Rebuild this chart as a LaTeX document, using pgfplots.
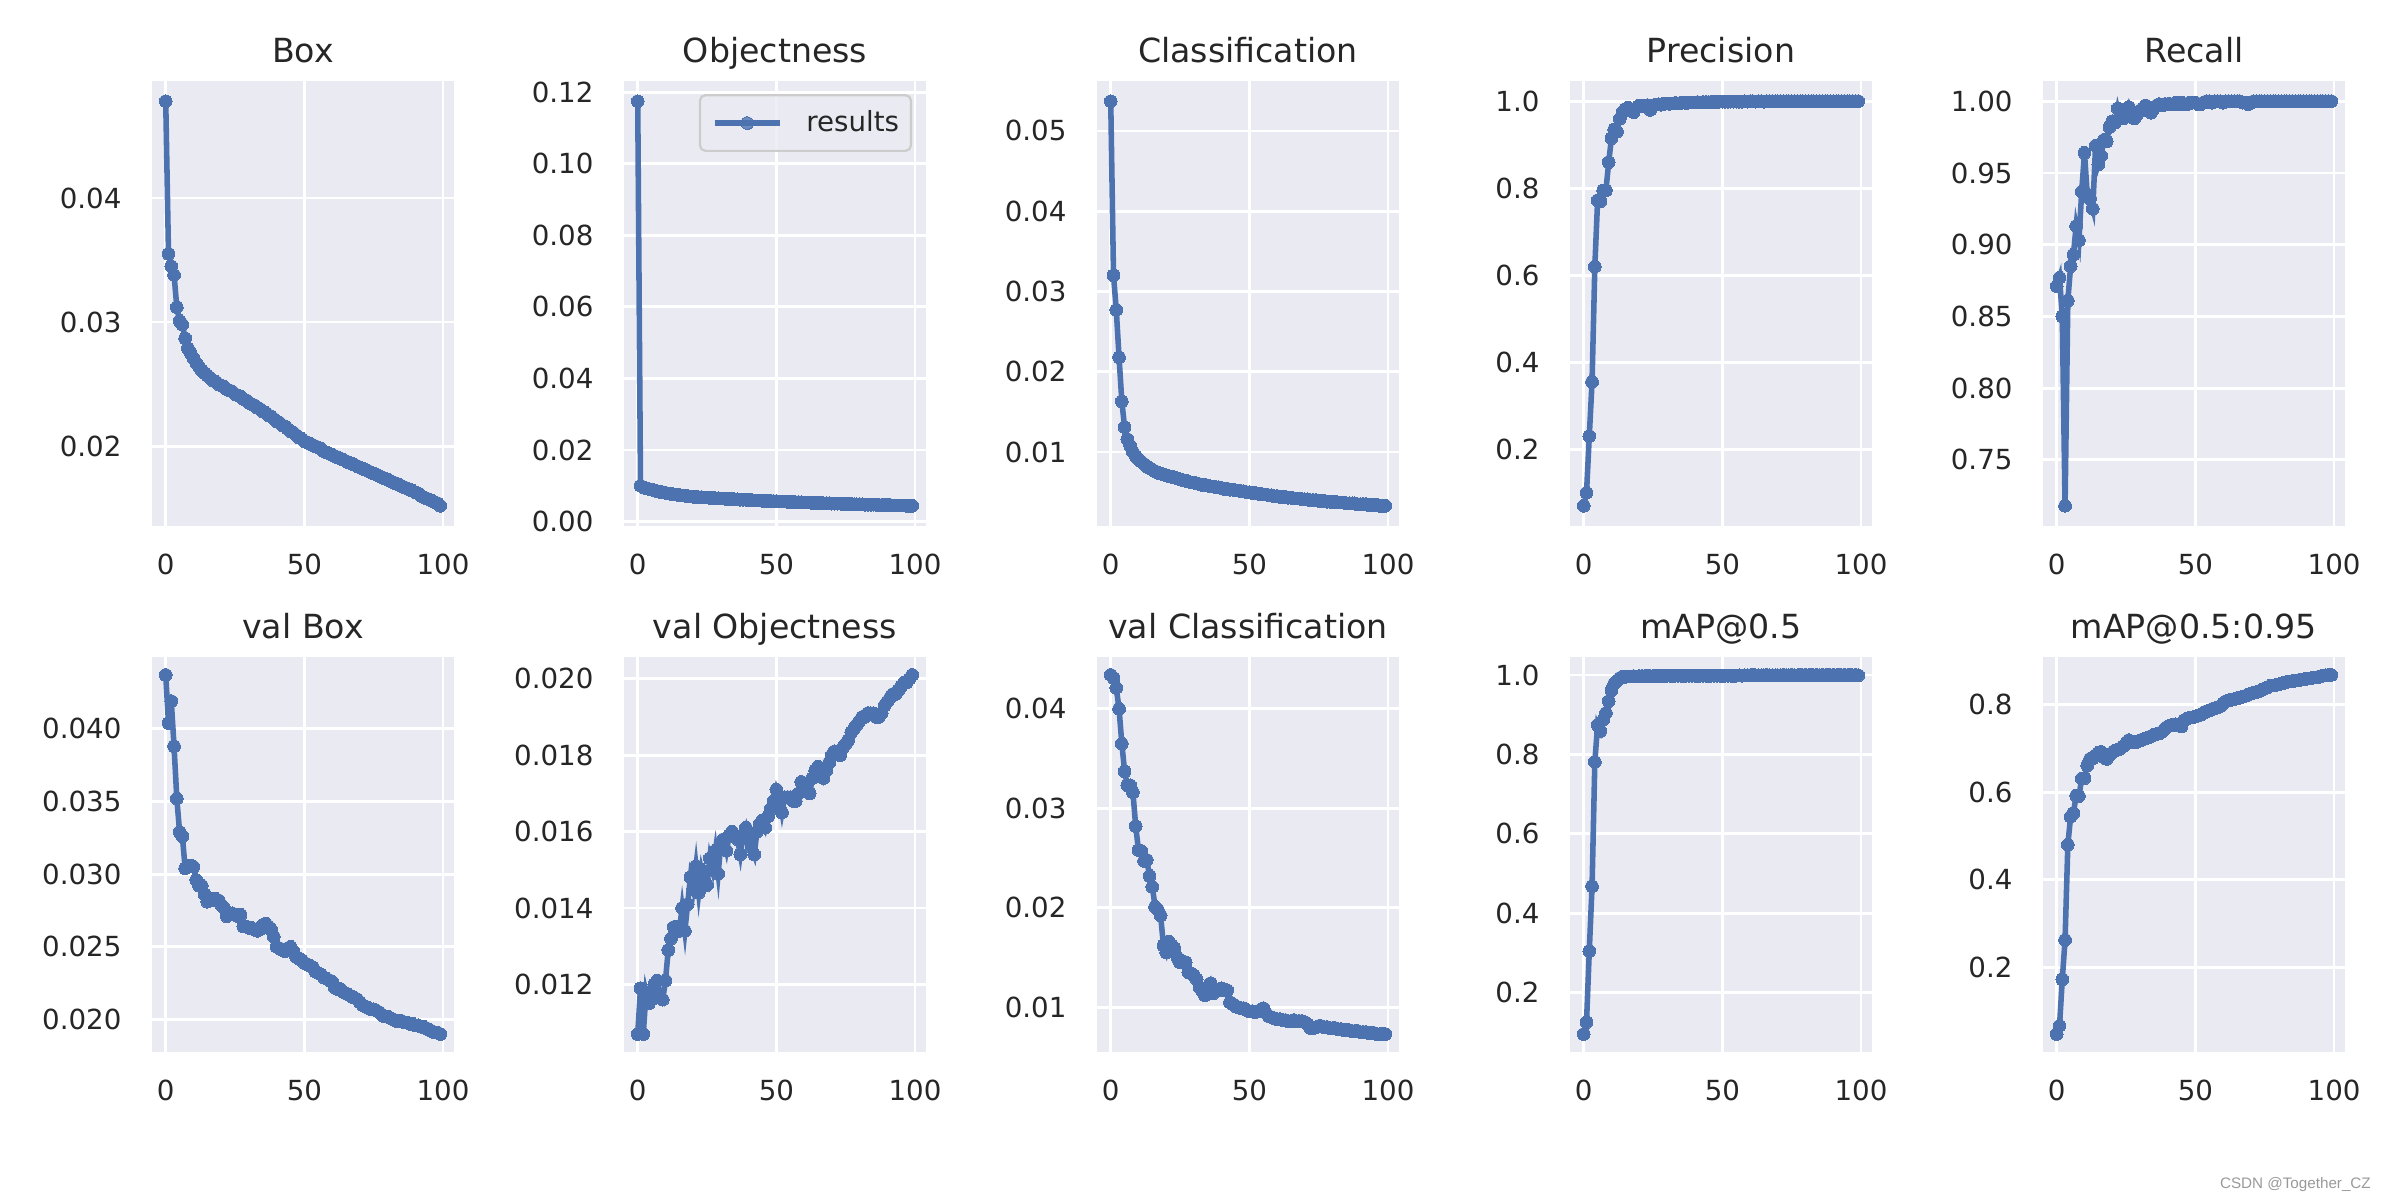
\documentclass[border=0pt]{standalone}
\usepackage{fontspec}
\setmainfont{DejaVu Sans}
\newfontfamily\wmfont{Liberation Sans}
\usepackage{pgfplots}
\usepackage{pgfplotstable}
\pgfplotsset{compat=1.18}

\definecolor{bgc}{HTML}{EAEAF2}
\definecolor{c0}{HTML}{4C72B0}
\definecolor{txt}{HTML}{262626}
\definecolor{legc}{HTML}{CCCCCC}

% epoch, train box/obj/cls, precision, recall, val box/obj/cls, mAP@.5, mAP@.5:.95
\pgfplotstableread{
ep box obj cls prec rec vbox vobj vcls map50 map
0 .0478 .1175 .0537 .070 .871 .0437 .0107 .0434 .096 .047
1 .0355 .0100 .0320 .100 .877 .0404 .0119 .0431 .126 .066
2 .0345 .0096 .0277 .230 .850 .0419 .0107 .0421 .305 .172
3 .0338 .0093 .0218 .355 .718 .0388 .0118 .0400 .468 .262
4 .0312 .0091 .0163 .620 .861 .0352 .0115 .0365 .781 .480
5 .0301 .0089 .0131 .772 .885 .0329 .0116 .0337 .874 .544
6 .0298 .0087 .0116 .770 .893 .0326 .0120 .0323 .859 .552
7 .0287 .0085 .0108 .795 .913 .0304 .0121 .0323 .887 .592
8 .0279 .0083 .0100 .795 .903 .0306 .0117 .0316 .904 .591
9 .0275 .0082 .0095 .860 .937 .0306 .0116 .0282 .934 .631
10 .0271 .0080 .0091 .915 .964 .0305 .0121 .0258 .961 .632
11 .0267 .0078 .0088 .935 .935 .0296 .0129 .0257 .978 .661
12 .0264 .0077 .0085 .930 .932 .0292 .0132 .0247 .985 .676
13 .0261 .0076 .0082 .960 .925 .0292 .0135 .0248 .992 .677
14 .0259 .0075 .0080 .975 .969 .0286 .0135 .0232 .996 .684
15 .0257 .0074 .0078 .982 .956 .0281 .0134 .0221 .995 .690
16 .0255 .0073 .0076 .985 .962 .0283 .0140 .0201 .996 .692
17 .0253 .0072 .0074 .980 .973 .0282 .0134 .0198 .996 .680
18 .0252 .0071 .0073 .975 .972 .0283 .0141 .0192 .997 .676
19 .0250 .0070 .0072 .985 .982 .0282 .0148 .0162 .996 .685
20 .0249 .0069 .0071 .990 .986 .0279 .0145 .0155 .997 .690
21 .0248 .0069 .0070 .988 .985 .0277 .0151 .0166 .997 .695
22 .0246 .0068 .0069 .990 .995 .0271 .0144 .0162 .997 .697
23 .0245 .0068 .0068 .991 .988 .0272 .0150 .0159 .998 .700
24 .0244 .0067 .0067 .980 .988 .0273 .0147 .0150 .997 .705
25 .0242 .0067 .0066 .990 .990 .0272 .0146 .0145 .997 .712
26 .0241 .0066 .0065 .992 .996 .0271 .0153 .0146 .998 .719
27 .0240 .0066 .0064 .993 .990 .0272 .0150 .0145 .997 .715
28 .0238 .0065 .0063 .992 .988 .0264 .0155 .0135 .998 .714
29 .0237 .0065 .0062 .994 .991 .0264 .0149 .0134 .997 .715
30 .0235 .0064 .0062 .995 .993 .0263 .0157 .0132 .998 .718
31 .0234 .0064 .0061 .994 .995 .0263 .0158 .0128 .998 .721
32 .0233 .0063 .0060 .995 .997 .0262 .0155 .0120 .997 .723
33 .0231 .0063 .0059 .996 .996 .0261 .0159 .0116 .998 .725
34 .0230 .0063 .0059 .995 .992 .0262 .0160 .0112 .998 .728
35 .0228 .0062 .0058 .996 .995 .0265 .0159 .0118 .998 .731
36 .0227 .0062 .0057 .997 .997 .0266 .0158 .0124 .997 .733
37 .0225 .0061 .0057 .996 .998 .0264 .0154 .0114 .998 .734
38 .0224 .0061 .0056 .997 .997 .0262 .0159 .0116 .998 .738
39 .0222 .0061 .0056 .997 .998 .0257 .0161 .0118 .998 .745
40 .0220 .0060 .0055 .997 .998 .0250 .0158 .0119 .998 .750
41 .0219 .0060 .0054 .998 .998 .0249 .0156 .0117 .998 .752
42 .0217 .0059 .0054 .997 .998 .0248 .0154 .0117 .998 .754
43 .0216 .0059 .0053 .998 .999 .0247 .0160 .0105 .998 .755
44 .0214 .0059 .0053 .998 .998 .0249 .0162 .0103 .998 .752
45 .0212 .0058 .0052 .998 .999 .0250 .0163 .0101 .998 .750
46 .0211 .0058 .0052 .998 .998 .0247 .0161 .0100 .998 .765
47 .0209 .0058 .0051 .999 .998 .0243 .0164 .0099 .998 .768
48 .0207 .0057 .0051 .998 .999 .0242 .0166 .0099 .998 .770
49 .0206 .0057 .0050 .999 .999 .0241 .0168 .0097 .998 .771
50 .0204 .0057 .0050 .999 .999 .0239 .0171 .0096 .998 .773
51 .0203 .0056 .0049 .999 .998 .0238 .0169 .0096 .998 .775
52 .0202 .0056 .0049 .999 .998 .0237 .0165 .0095 .998 .777
53 .0201 .0056 .0048 .999 .999 .0236 .0169 .0096 .998 .781
54 .0200 .0055 .0048 .999 1.000 .0233 .0169 .0097 .998 .785
55 .0199 .0055 .0047 .999 1.000 .0232 .0169 .0099 .998 .787
56 .0198 .0055 .0047 .999 .999 .0231 .0168 .0094 .999 .790
57 .0196 .0054 .0046 .999 1.000 .0229 .0168 .0091 .998 .792
58 .0195 .0054 .0046 1.000 1.000 .0228 .0170 .0090 .999 .794
59 .0194 .0054 .0045 .999 1.000 .0227 .0173 .0089 .999 .797
60 .0193 .0053 .0045 1.000 .999 .0226 .0172 .0088 .999 .803
61 .0192 .0053 .0044 1.000 1.000 .0222 .0171 .0088 1.000 .808
62 .0191 .0053 .0044 .999 1.000 .0221 .0170 .0087 .999 .810
63 .0190 .0052 .0044 1.000 1.000 .0221 .0174 .0087 .999 .811
64 .0189 .0052 .0043 1.000 1.000 .0219 .0176 .0086 .999 .813
65 .0188 .0052 .0043 .999 1.000 .0218 .0177 .0086 .999 .815
66 .0187 .0052 .0042 1.000 1.000 .0217 .0176 .0087 1.000 .816
67 .0186 .0051 .0042 1.000 .999 .0216 .0174 .0086 .999 .818
68 .0185 .0051 .0042 1.000 .999 .0215 .0176 .0086 .999 .820
69 .0184 .0051 .0041 1.000 .998 .0214 .0178 .0086 .999 .823
70 .0183 .0050 .0041 1.000 .999 .0212 .0180 .0085 .999 .825
71 .0182 .0050 .0041 1.000 1.000 .0210 .0181 .0083 .999 .827
72 .0181 .0050 .0040 1.000 1.000 .0209 .0181 .0079 1.000 .829
73 .0180 .0050 .0040 1.000 1.000 .0208 .0180 .0079 .999 .831
74 .0179 .0049 .0040 1.000 1.000 .0207 .0182 .0080 .999 .834
75 .0178 .0049 .0039 1.000 1.000 .0207 .0183 .0081 1.000 .837
76 .0177 .0049 .0039 1.000 1.000 .0206 .0184 .0081 .999 .840
77 .0176 .0049 .0039 1.000 1.000 .0205 .0186 .0080 .999 .843
78 .0175 .0048 .0038 1.000 1.000 .0203 .0187 .0080 1.000 .844
79 .0174 .0048 .0038 1.000 1.000 .0202 .0188 .0079 .999 .845
80 .0173 .0048 .0038 1.000 1.000 .0202 .0189 .0079 1.000 .846
81 .0172 .0048 .0038 1.000 1.000 .0201 .0190 .0079 .999 .848
82 .0171 .0047 .0037 1.000 1.000 .0200 .0190 .0078 1.000 .850
83 .0170 .0047 .0037 1.000 1.000 .0199 .0191 .0078 .999 .852
84 .0169 .0047 .0037 1.000 1.000 .0199 .0191 .0077 1.000 .853
85 .0168 .0047 .0036 1.000 1.000 .0199 .0191 .0077 .999 .854
86 .0167 .0047 .0036 1.000 1.000 .0198 .0190 .0077 1.000 .855
87 .0166 .0046 .0036 1.000 1.000 .0198 .0190 .0076 .999 .856
88 .0165 .0046 .0036 1.000 1.000 .0197 .0191 .0076 1.000 .857
89 .0164 .0046 .0035 1.000 1.000 .0197 .0193 .0076 .999 .858
90 .0163 .0046 .0035 1.000 1.000 .0196 .0194 .0075 1.000 .859
91 .0162 .0046 .0035 1.000 1.000 .0196 .0195 .0075 .999 .860
92 .0160 .0045 .0035 1.000 1.000 .0195 .0196 .0075 1.000 .861
93 .0159 .0045 .0034 1.000 1.000 .0195 .0196 .0074 .999 .862
94 .0158 .0045 .0034 1.000 1.000 .0194 .0197 .0074 1.000 .863
95 .0157 .0045 .0034 1.000 1.000 .0193 .0198 .0074 .999 .864
96 .0156 .0045 .0034 1.000 1.000 .0192 .0199 .0073 1.000 .866
97 .0155 .0044 .0033 1.000 1.000 .0191 .0199 .0073 .999 .867
98 .0154 .0044 .0033 1.000 1.000 .0191 .0200 .0073 1.000 .868
99 .0152 .0044 .0033 1.000 1.000 .0190 .0201 .0073 .999 .868
}\results

\pgfplotsset{
  yolo/.style={
    anchor=south west, scale only axis, width=108.72bp,
    axis background/.style={fill=bgc},
    axis line style={draw=none},
    major tick length=0pt, tick style={draw=none},
    grid=major, major grid style={white, line width=1bp},
    enlarge x limits=0.05, enlarge y limits=0.05,
    scaled y ticks=false, scaled x ticks=false,
    xtick={0,50,100}, xticklabels={0,50,100},
    tick label style={font=\fontsize{10}{12}\selectfont, text=txt},
    xticklabel style={inner sep=0pt, anchor=north, yshift=-10bp},
    yticklabel style={inner sep=0pt, anchor=east, xshift=-10.8bp},
    every axis title/.style={font=\fontsize{12}{14}\selectfont, text=txt,
      at={(0.5,1)}, anchor=base, yshift=6.8bp, inner sep=0pt},
    cycle list={c0\\},
    every axis plot/.append style={line width=2bp, mark=*, mark size=2.3bp,
      mark options={solid, fill=c0, draw=c0, line width=0pt}},
  },
  top/.style={yolo, height=160.2bp},
  bot/.style={yolo, height=142.2bp},
}

\begin{document}
\begin{tikzpicture}
\path[use as bounding box] (0,0) rectangle (864bp,432bp);

% top row
\begin{axis}[top, at={(54.72bp,242.64bp)}, title={Box},
  ytick={0.02,0.03,0.04}, yticklabels={0.02,0.03,0.04}]
\addplot table[x=ep,y=box]{\results};
\end{axis}

\begin{axis}[top, at={(224.64bp,242.64bp)}, title={Objectness},
  ytick={0,0.02,0.04,0.06,0.08,0.10,0.12},
  yticklabels={0.00,0.02,0.04,0.06,0.08,0.10,0.12},
  legend style={at={(1,1)}, anchor=north east, xshift=-5bp, yshift=-4.7bp,
    fill=bgc, fill opacity=0.8, text opacity=1, draw=legc, line width=0.8bp,
    rounded corners=2bp, font=\fontsize{10}{12}\selectfont, text=txt,
    inner xsep=4.3bp, inner ysep=5.5bp, column sep=8.6bp, nodes={inner sep=0pt}},
  legend image code/.code={\draw[mark repeat=2,mark phase=2,#1]
    plot coordinates {(0bp,0bp) (11.7bp,0bp) (23.4bp,0bp)};}]
\addplot table[x=ep,y=obj]{\results};
\addlegendentry{results}
\end{axis}

\begin{axis}[top, at={(394.92bp,242.64bp)}, title={Classification},
  ytick={0.01,0.02,0.03,0.04,0.05}, yticklabels={0.01,0.02,0.03,0.04,0.05}]
\addplot table[x=ep,y=cls]{\results};
\end{axis}

\begin{axis}[top, at={(565.2bp,242.64bp)}, title={Precision},
  ytick={0.2,0.4,0.6,0.8,1.0}, yticklabels={0.2,0.4,0.6,0.8,1.0}]
\addplot table[x=ep,y=prec]{\results};
\end{axis}

\begin{axis}[top, at={(735.48bp,242.64bp)}, title={Recall},
  ytick={0.75,0.80,0.85,0.90,0.95,1.00},
  yticklabels={0.75,0.80,0.85,0.90,0.95,1.00}]
\addplot table[x=ep,y=rec]{\results};
\end{axis}

% bottom row
\begin{axis}[bot, at={(54.72bp,53.28bp)}, title={val Box},
  ytick={0.020,0.025,0.030,0.035,0.040},
  yticklabels={0.020,0.025,0.030,0.035,0.040}]
\addplot table[x=ep,y=vbox]{\results};
\end{axis}

\begin{axis}[bot, at={(224.64bp,53.28bp)}, title={val Objectness},
  ytick={0.012,0.014,0.016,0.018,0.020},
  yticklabels={0.012,0.014,0.016,0.018,0.020}]
\addplot table[x=ep,y=vobj]{\results};
\end{axis}

\begin{axis}[bot, at={(394.92bp,53.28bp)}, title={val Classification},
  ytick={0.01,0.02,0.03,0.04}, yticklabels={0.01,0.02,0.03,0.04}]
\addplot table[x=ep,y=vcls]{\results};
\end{axis}

\begin{axis}[bot, at={(565.2bp,53.28bp)}, title={mAP@0.5},
  ytick={0.2,0.4,0.6,0.8,1.0}, yticklabels={0.2,0.4,0.6,0.8,1.0}]
\addplot table[x=ep,y=map50]{\results};
\end{axis}

\begin{axis}[bot, at={(735.48bp,53.28bp)}, title={mAP@0.5:0.95},
  ytick={0.2,0.4,0.6,0.8}, yticklabels={0.2,0.4,0.6,0.8}]
\addplot table[x=ep,y=map]{\results};
\end{axis}

\node[anchor=base east, font=\wmfont\fontsize{5.5}{6}\selectfont, text=black!40]
  at (857bp,4.3bp) {CSDN @Together\_CZ};
\end{tikzpicture}
\end{document}
